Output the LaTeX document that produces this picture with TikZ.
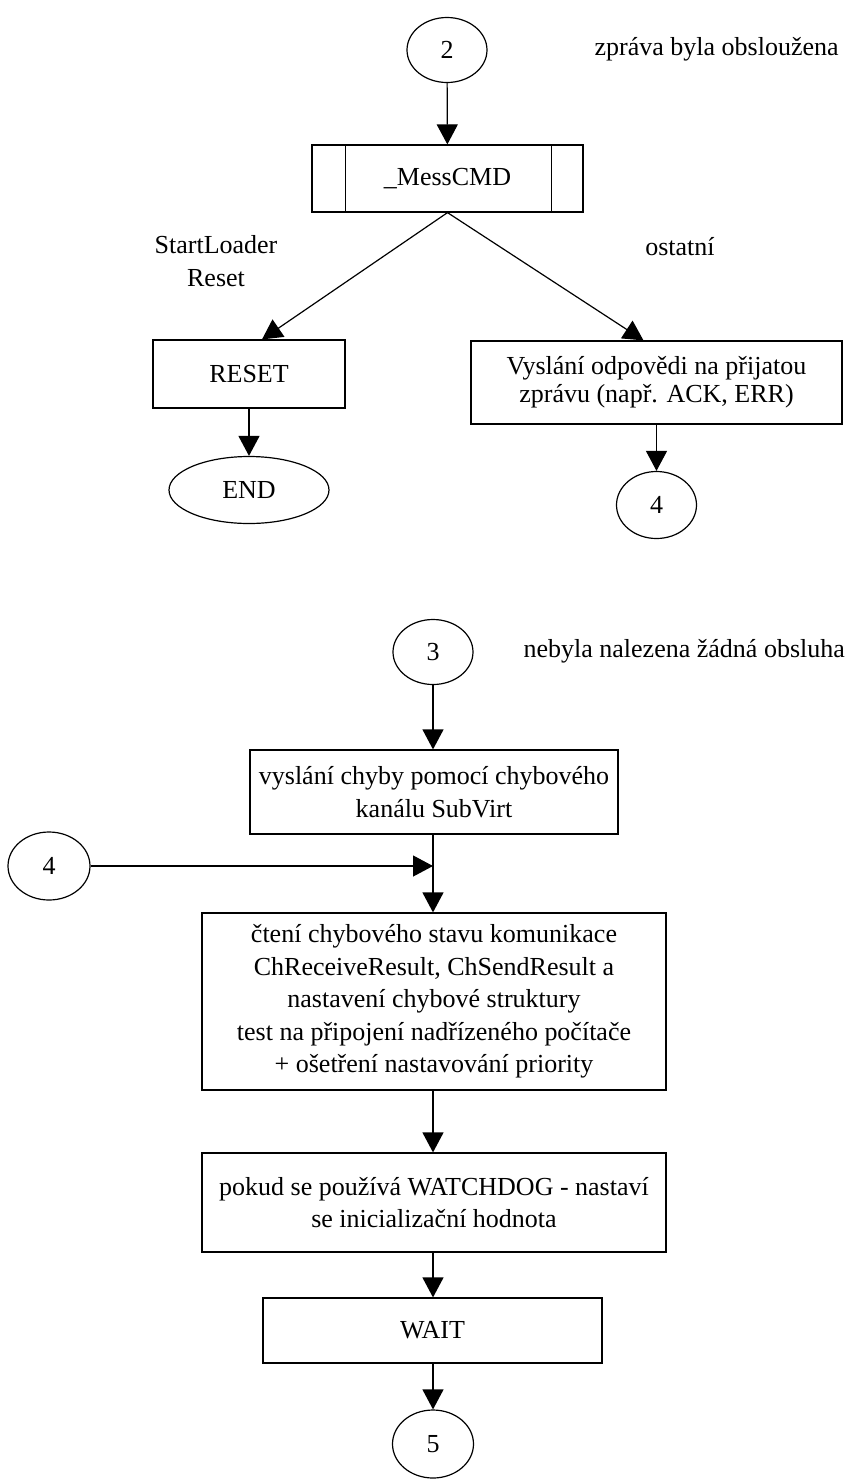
\documentclass[tikz,border=0pt]{standalone}
\usepackage{fontspec}
\setmainfont{Liberation Serif}
\usetikzlibrary{shapes.geometric,arrows.meta}

\tikzset{
  blok/.style={draw, rectangle, inner sep=0pt, align=center},
  konektor/.style={draw, ellipse, inner sep=0pt, minimum width=80pt, minimum height=65pt},
  popis/.style={inner sep=0pt, align=center},
  sipka/.style={-{Triangle[length=20pt,width=21pt]}},
}

\begin{document}
\begin{tikzpicture}[x=1pt,y=-1pt,line width=1.2pt,
    font=\fontsize{26}{32.5}\selectfont]
  \useasboundingbox (0,0) rectangle (855,1484);

  % Horni cast
  \node[konektor] (c2) at (447,50) {2};
  \node[popis, anchor=west] (obsl) at (594,49) {zpráva byla obsloužena};
  \node[blok, minimum width=271pt, minimum height=67pt] (mess) at (447.5,178.5) {\_MessCMD};
  \draw ([xshift=34]mess.north west) -- ([xshift=34]mess.south west);
  \draw ([xshift=-32]mess.north east) -- ([xshift=-32]mess.south east);
  \draw[sipka] (c2) -- (mess);

  % Vetve
  \node[popis] (lreset) at (216,261) {StartLoader\\Reset};
  \node[popis] (lost) at (680,247) {ostatní};
  \node[blok, minimum width=371pt, minimum height=83pt,
    font=\fontsize{26}{28}\selectfont] (odp) at (656.5,382.5)
    {Vyslání odpovědi na přijatou\\zprávu (např. ACK, ERR)};
  \node[blok, minimum width=192pt, minimum height=68pt] (reset) at (249,374) {RESET};
  \draw[sipka] (mess.south) -- ([xshift=13]reset.north);
  \draw[sipka] (mess.south) -- ([xshift=-13]odp.north);

  \node[konektor, minimum width=160pt, minimum height=67pt] (konec) at (249,490) {END};
  \node[konektor, minimum height=67pt] (c4) at (656.5,505) {4};
  \draw[sipka] (reset) -- (konec);
  \draw[sipka] (odp) -- (c4);

  % Dolni cast
  \node[konektor] (c3) at (433,652) {3};
  \node[popis, anchor=west] (neobs) at (523,651) {nebyla nalezena žádná obsluha};
  \node[blok, minimum width=368pt, minimum height=84pt] (chyba) at (434,792)
    {vyslání chyby pomocí chybového\\kanálu SubVirt};
  \draw[sipka] (c3) -- (c3 |- chyba.north);

  \node[konektor, minimum width=82pt, minimum height=68pt] (c4b) at (49,866) {4};
  \node[blok, minimum width=464pt, minimum height=177pt] (stav) at (434,1001.5)
    {čtení chybového stavu komunikace\\ChReceiveResult, ChSendResult a\\nastavení chybové struktury\\
     test na připojení nadřízeného počítače\\+ ošetření nastavování priority};
  \coordinate (spoj) at (c3 |- c4b);
  \draw[sipka] (c3 |- chyba.south) -- (c3 |- stav.north);
  \draw[sipka] (c4b) -- (spoj);

  \node[blok, minimum width=464pt, minimum height=99pt] (wd) at (434,1202.5)
    {pokud se používá WATCHDOG - nastaví\\se inicializační hodnota};
  \node[blok, minimum width=339pt, minimum height=65pt] (wait) at (432.5,1330.5) {WAIT};
  \node[konektor, minimum width=81pt, minimum height=68pt] (c5) at (433,1444) {5};
  \draw[sipka] (c3 |- stav.south) -- (c3 |- wd.north);
  \draw[sipka] (c3 |- wd.south) -- (c3 |- wait.north);
  \draw[sipka] (c3 |- wait.south) -- (c5);
\end{tikzpicture}
\end{document}
